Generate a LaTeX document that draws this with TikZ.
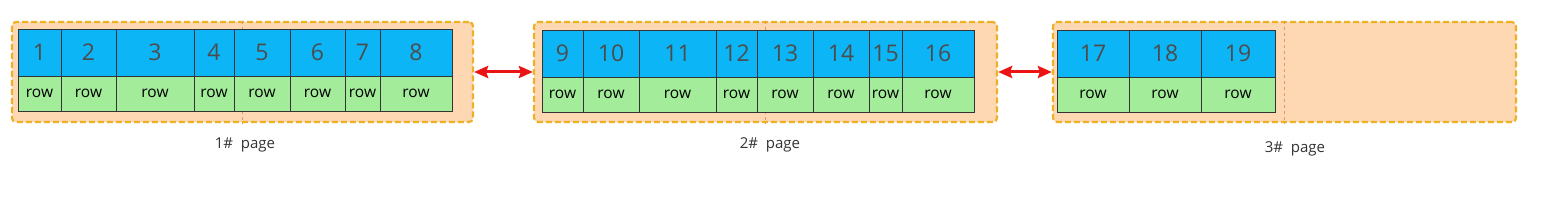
\documentclass[tikz,border=0pt]{standalone}
\usepackage{fontspec}
\setmainfont{Open Sans}
\usepackage{xcolor}
\usetikzlibrary{arrows.meta,positioning}

\definecolor{keyblue}{RGB}{12,182,246}
\definecolor{rowgreen}{RGB}{162,236,154}
\definecolor{pagefill}{RGB}{253,216,178}
\definecolor{pageedge}{RGB}{238,176,36}
\definecolor{splitline}{RGB}{225,150,100}
\definecolor{linkred}{RGB}{235,20,20}

\tikzset{
  pagebox/.style={draw=pageedge,fill=pagefill,dash pattern=on 6pt off 3pt,line width=2.2pt,rounded corners=4pt,inner sep=0pt},
  keycell/.style={draw=black!80,fill=keyblue,line width=0.8pt,inner sep=0pt,text=black!70,font=\fontsize{23}{25}\selectfont},
  rowcell/.style={draw=black!80,fill=rowgreen,line width=0.8pt,inner sep=0pt,font=\fontsize{15.5}{17}\selectfont},
  pagelabel/.style={font=\fontsize{15}{17}\selectfont,text=black!80},
  link/.style={{Stealth[length=14pt,width=12pt,inset=2pt]}-{Stealth[length=14pt,width=12pt,inset=2pt]},linkred,line width=3pt},
}

\begin{document}
\begin{tikzpicture}[x=1pt,y=-1pt]
                \useasboundingbox (0,0) rectangle (1554,213);
                % the three pages
                \node[pagebox,minimum width=461,minimum height=100] (p1) at (242.5,72) {};
                \node[pagebox,minimum width=463,minimum height=100] (p2) at (765.5,72) {};
                \node[pagebox,minimum width=463,minimum height=100] (p3) at (1284.5,72) {};
                \foreach \p in {p1,p2,p3}
                \draw[splitline,dashed,line width=0.5pt] (\p.north) -- (\p.south);
                % records: number / left / right / top
                \foreach \n/\a/\b/\t in {1/18/61/29,2/61/116/29,3/116/194/29,4/194/234/29,
                  5/234/290/29,6/290/345/29,7/345/380/29,8/380/452/29,
                  9/542/583/30,10/583/639/30,11/639/716/30,12/716/757/30,
                  13/757/813/30,14/813/869/30,15/869/902/30,16/902/974/30,
                  17/1057/1129/30,18/1129/1201/30,19/1201/1275/30} {
                  \node[keycell,minimum width={(\b-\a)*1pt},minimum height=47] (k\n) at ({(\a+\b)/2},{\t+23.5}) {\n};
                  \node[rowcell,minimum width={(\b-\a)*1pt},minimum height=35] (r\n) at ({(\a+\b)/2},{\t+64.5}) {\raisebox{-1.5pt}{row}};
                }
                % links between pages
                \draw[link] (p1.east) -- (p2.west);
                \draw[link] (p2.east) -- (p3.west);
                \node[pagelabel] (l1) at (245,145) {1\#\ \ page};
                \node[pagelabel] (l2) at (770,145) {2\#\ \ page};
                \node[pagelabel] (l3) at (1295,149) {3\#\ \ page};
            \end{tikzpicture}
\end{document}
